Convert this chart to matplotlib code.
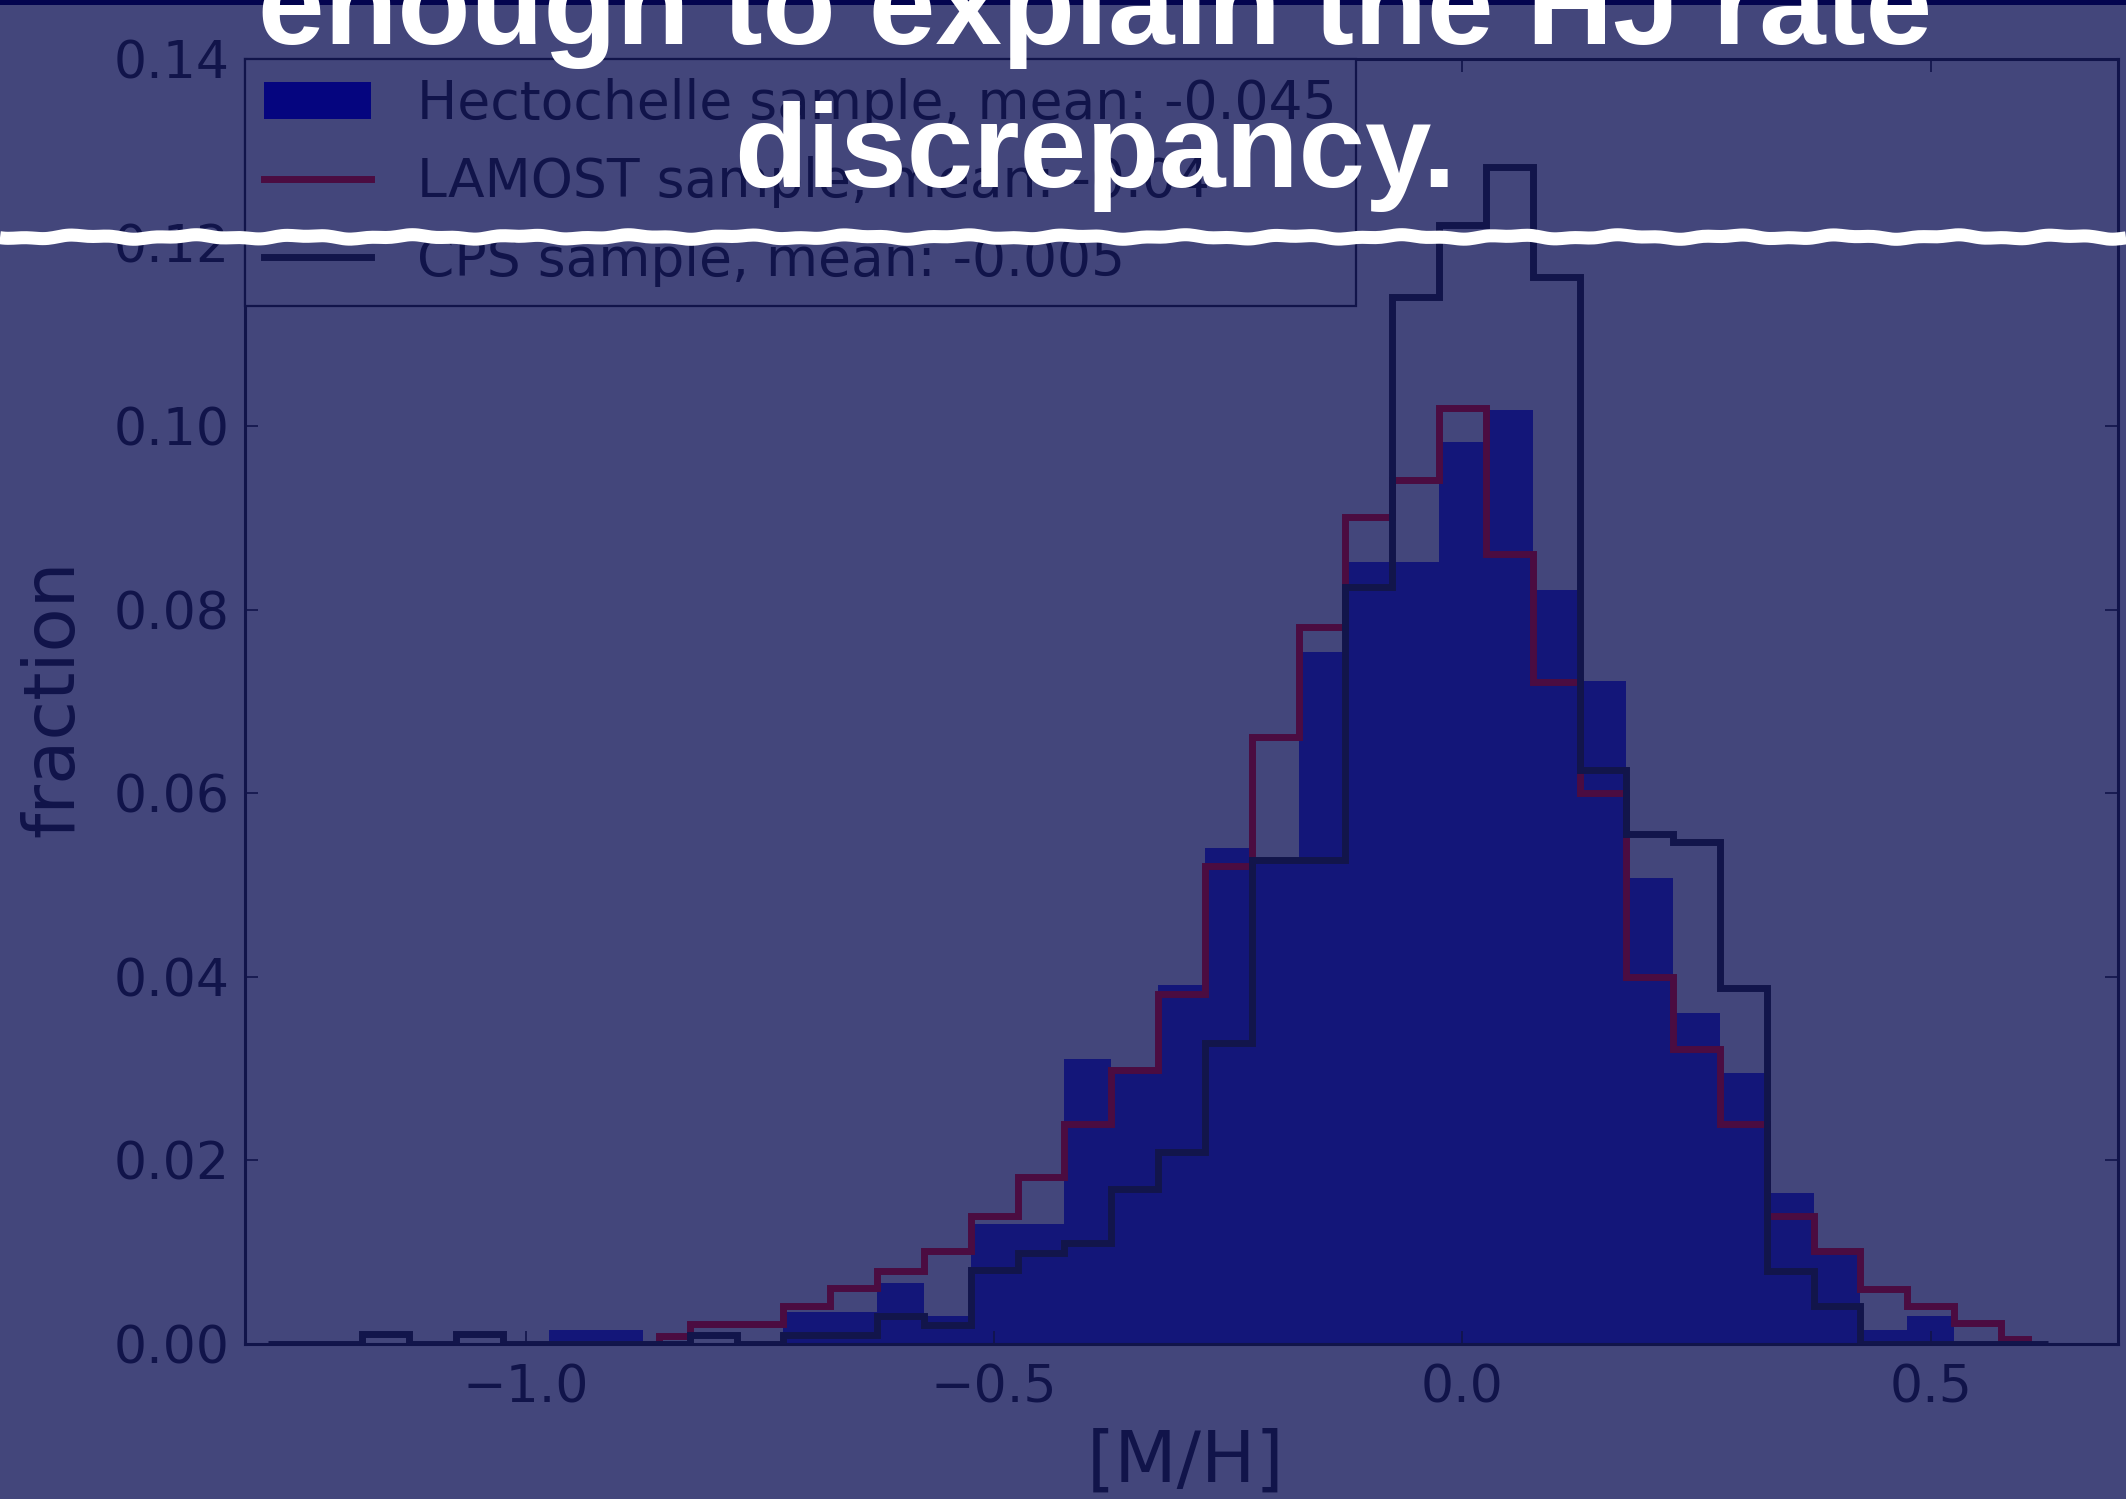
import numpy as np
from matplotlib import pyplot
from matplotlib.lines import Line2D
from matplotlib.patches import Patch, Rectangle

# [M/H] histograms, normalised to fraction per 0.05 dex bin
bin_edges = np.round(np.arange(-1.275, 0.65, 0.05), 3)

hecto = [0, 0, 0, 0, 0, 0, 0.0015, 0.0015, 0, 0, 0, 0.0035, 0.0035, 0.0066, 0.0030,
         0.0131, 0.0131, 0.0311, 0.0295, 0.0391, 0.0540, 0.0530, 0.0754, 0.0852, 0.0852,
         0.0983, 0.1018, 0.0821, 0.0722, 0.0508, 0.0361, 0.0295, 0.0164, 0.0098, 0.0015,
         0.0030, 0, 0]

cps = [0, 0, 0.0011, 0, 0.0011, 0, 0, 0, 0, 0.0010, 0, 0.0010, 0.0010, 0.0030, 0.0021,
       0.0081, 0.0099, 0.0110, 0.0169, 0.0209, 0.0328, 0.0527, 0.0527, 0.0825, 0.1141,
       0.1219, 0.1282, 0.1162, 0.0625, 0.0556, 0.0547, 0.0388, 0.0080, 0.0041, 0,
       0, 0, 0]

# LAMOST covers -0.858 .. 0.604 only, outer bins are clipped to that range
lamost_min, lamost_max = -0.858, 0.604
lamost = [0.0009, 0.0022, 0.0022, 0.0041, 0.0061, 0.0080, 0.0101, 0.0140, 0.0182, 0.0240,
          0.0299, 0.0381, 0.0521, 0.0661, 0.0781, 0.0901, 0.0941, 0.1020, 0.0861, 0.0721,
          0.0600, 0.0400, 0.0321, 0.0240, 0.0139, 0.0101, 0.0060, 0.0041, 0.0023, 0.0005]

labels = ['Hectochelle sample, mean: -0.045',
          'LAMOST sample, mean: -0.04',
          'CPS sample, mean: -0.005']

x_ticks = [-1.0, -0.5, 0.0, 0.5]
y_ticks = [0.00, 0.02, 0.04, 0.06, 0.08, 0.10, 0.12, 0.14]

title_lines = ['enough to explain the HJ rate', 'discrepancy.']

BG = '#43467b'
INK = '#11144a'
HECTO_COLOR = '#131679'
LAMOST_COLOR = '#4b0c41'
CPS_COLOR = '#12154b'

W, H = 2126, 1499


def draw_histograms(ax):
    lamost_edges = bin_edges[8:].copy()
    lamost_edges[0] = lamost_min
    lamost_edges[-1] = lamost_max

    ax.stairs(hecto, bin_edges, fill=True, color=HECTO_COLOR, zorder=1)
    ax.stairs(lamost, lamost_edges, color=LAMOST_COLOR, linewidth=5, zorder=2)
    ax.stairs(cps, bin_edges, color=CPS_COLOR, linewidth=5, zorder=3)

    handles = [Patch(facecolor='#05057f', edgecolor='none'),
               Line2D([], [], color=LAMOST_COLOR, linewidth=5),
               Line2D([], [], color=CPS_COLOR, linewidth=5)]
    leg = ax.legend(handles, labels, loc='upper left', borderaxespad=0, fontsize=38.5,
                    fancybox=False, framealpha=1, facecolor=BG, edgecolor=INK,
                    handlelength=2.0, handletextpad=0.85, borderpad=0.36, labelspacing=0.49)
    leg.get_frame().set_linewidth(1.6)
    for t in leg.get_texts():
        t.set_color(INK)


def style_axes(ax):
    ax.set_xlim(-1.3, 0.7)
    ax.set_ylim(0, 0.14)
    ax.set_facecolor(BG)
    ax.set_xticks(x_ticks)
    ax.set_xticklabels([f'{v:.1f}'.replace('-', '\u2212') for v in x_ticks])
    ax.set_yticks(y_ticks)
    ax.set_yticklabels([f'{v:.2f}' for v in y_ticks])
    ax.tick_params(direction='in', length=9.5, width=1.2, top=True, right=True,
                   labelsize=37.5, colors=INK)
    ax.tick_params(axis='x', pad=14)
    ax.tick_params(axis='y', pad=11)
    for sp in ax.spines.values():
        sp.set_color(INK)
        sp.set_linewidth(2.2)

    ax.set_xlabel('[M/H]', fontsize=52, color=INK, va='center')
    ax.xaxis.set_label_coords(0.5024, -0.0918)
    ax.set_ylabel('fraction', fontsize=52, color=INK, va='center')
    ax.yaxis.set_label_coords(-0.102, 0.5027)


def add_slide_overlay(fig):
    # dark band along the top edge
    fig.add_artist(Rectangle((0, 1 - 4.5 / H), 1, 4.5 / H, transform=fig.transFigure,
                             facecolor='#03044f', edgecolor='none', zorder=4))

    fig.text(1095 / W, 1 - 44 / H, title_lines[0], ha='center', va='baseline',
             fontsize=86, fontweight='bold', family='Liberation Sans', color='white', zorder=6)
    fig.text(1095 / W, 1 - 187 / H, title_lines[1], ha='center', va='baseline',
             fontsize=86, fontweight='bold', family='Liberation Sans', color='white', zorder=6)

    # torn-edge divider
    px = np.linspace(0, W, 800)
    py = 237 + 1.5 * np.sin(2 * np.pi * px / 110) + 0.8 * np.sin(2 * np.pi * px / 43 + 1.0)
    fig.add_artist(Line2D(px / W, 1 - py / H, transform=fig.transFigure, color='white',
                          linewidth=9.4, solid_capstyle='butt', zorder=5))


def main():
    fig = pyplot.figure(figsize=(W / 100, H / 100), dpi=100, facecolor=BG)
    ax = fig.add_axes([245 / W, 1 - 1344 / H, 1873 / W, 1285 / H])

    draw_histograms(ax)
    style_axes(ax)
    add_slide_overlay(fig)

    fig.savefig('out.png', dpi=100, facecolor=fig.get_facecolor())
    pyplot.close()


if __name__ == '__main__':
    main()
